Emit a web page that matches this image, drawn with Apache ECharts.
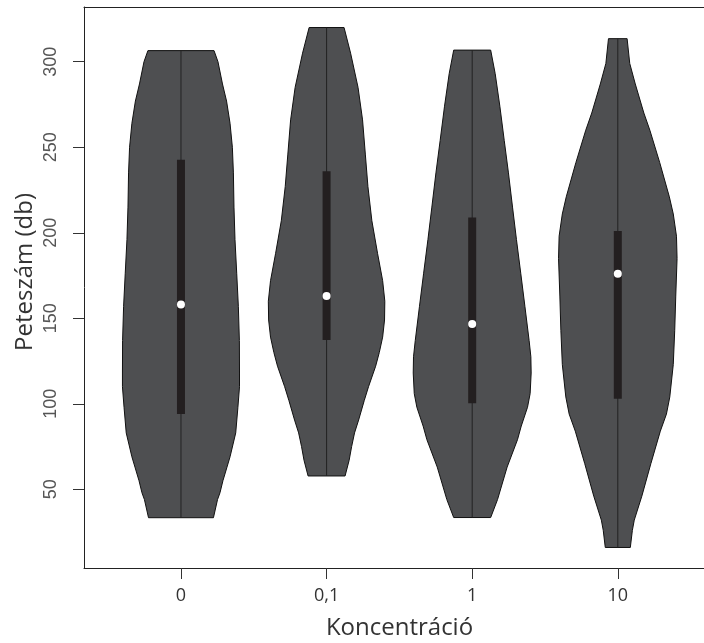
<!DOCTYPE html>
<html>
<head>
<meta charset="utf-8">
<script src="https://cdn.jsdelivr.net/npm/echarts@6/dist/echarts.min.js"></script>
<style>
  html, body { margin: 0; padding: 0; background: #fff; }
  #chart { width: 704px; height: 643px; }
</style>
</head>
<body>
<div id="chart"></div>
<script>
// Egg counts (Peteszám) per concentration group, shown as violin plots.
const categories = ['0', '0,1', '1', '10'];
const positions = [1, 2, 3, 4];
const yTicks = [50, 100, 150, 200, 250, 300];

// Box statistics per group
const minima = [33.4, 57.8, 33.5, 16];
const maxima = [306.5, 320, 306.8, 313.5];
const lowerQuartiles = [94, 137.3, 100.3, 103];
const upperQuartiles = [242.7, 235.9, 209, 201];
const medians = [158.1, 163, 146.6, 176];

// Kernel density outlines: [value, half width in group units]
const density0 = [
  [306.5, 0.227], [300, 0.254], [287, 0.285], [277, 0.313], [264, 0.337],
  [250, 0.353], [235, 0.360], [215, 0.364], [196, 0.371], [176, 0.383],
  [157, 0.394], [137, 0.401], [118, 0.402], [110, 0.402], [98, 0.391],
  [83, 0.376], [69, 0.337], [63, 0.316], [55, 0.288], [48, 0.268],
  [44, 0.251], [33.4, 0.223]
];
const density01 = [
  [320, 0.120], [305, 0.165], [285, 0.216], [266, 0.247], [246, 0.266],
  [227, 0.284], [207, 0.311], [188, 0.350], [172, 0.385], [160, 0.400],
  [149, 0.398], [139, 0.385], [130, 0.362], [122, 0.337], [110, 0.288],
  [102, 0.259], [90.5, 0.220], [83, 0.192], [75, 0.172], [67, 0.155],
  [57.8, 0.127]
];
const density1 = [
  [306.8, 0.127], [293, 0.158], [274, 0.190], [254, 0.220], [235, 0.249],
  [215, 0.277], [196, 0.304], [176, 0.334], [157, 0.362], [137, 0.391],
  [127.5, 0.403], [118, 0.405], [106, 0.398], [98, 0.380], [87, 0.337],
  [79, 0.311], [63, 0.240], [44, 0.174], [33.5, 0.127]
];
const density10 = [
  [313.5, 0.064], [299, 0.082], [287, 0.120], [270, 0.179], [260, 0.220],
  [241, 0.288], [221, 0.354], [211, 0.381], [198, 0.403], [185, 0.407],
  [163, 0.398], [143, 0.391], [123, 0.381], [104, 0.357], [94, 0.334],
  [84, 0.292], [65, 0.227], [46, 0.165], [32, 0.113], [26, 0.100],
  [16, 0.086]
];
const densities = [density0, density01, density1, density10];

const chart = echarts.init(document.getElementById('chart'), null, { renderer: 'canvas' });

function renderViolin(params, api) {
  const i = api.value(0);
  const x = positions[i];
  const prof = densities[i];
  const pts = [];
  // right side, top to bottom
  for (let k = 0; k < prof.length; k++) pts.push(api.coord([x + prof[k][1], prof[k][0]]));
  // left side, bottom to top
  for (let k = prof.length - 1; k >= 0; k--) pts.push(api.coord([x - prof[k][1], prof[k][0]]));

  const top = api.coord([x, maxima[i]]);
  const bottom = api.coord([x, minima[i]]);
  const q3 = api.coord([x, upperQuartiles[i]]);
  const q1 = api.coord([x, lowerQuartiles[i]]);
  const med = api.coord([x, medians[i]]);
  const boxW = 8;

  return {
    type: 'group',
    children: [
      {
        type: 'polygon',
        shape: { points: pts },
        style: { fill: '#4e4f51', stroke: '#111', lineWidth: 1 }
      },
      {
        type: 'line',
        shape: { x1: top[0], y1: top[1], x2: bottom[0], y2: bottom[1] },
        style: { stroke: '#222', lineWidth: 1 }
      },
      {
        type: 'rect',
        shape: { x: q3[0] - boxW / 2, y: q3[1], width: boxW, height: q1[1] - q3[1] },
        style: { fill: '#231f20' }
      },
      {
        type: 'circle',
        shape: { cx: med[0], cy: med[1], r: 4 },
        style: { fill: '#ffffff' }
      }
    ]
  };
}

const frameLine = { show: true, lineStyle: { color: '#222', width: 1 } };

chart.setOption({
  animation: false,
  backgroundColor: '#ffffff',
  grid: { left: 84, top: 7, width: 620, height: 561, show: false },
  xAxis: [
    {
      type: 'value',
      position: 'bottom',
      min: 0.334, max: 4.592,
      axisLine: frameLine,
      splitLine: { show: false },
      axisTick: { show: true, length: 11, customValues: positions, lineStyle: { color: '#333', width: 1 } },
      axisLabel: {
        customValues: positions,
        formatter: v => categories[Math.round(v) - 1],
        margin: 19,
        fontFamily: 'Open Sans',
        fontSize: 18,
        color: '#333'
      }
    },
    {
      // top edge of the plot frame
      type: 'value',
      position: 'top',
      min: 0.334, max: 4.592,
      axisLine: frameLine,
      axisTick: { show: false },
      axisLabel: { show: false },
      splitLine: { show: false }
    }
  ],
  yAxis: {
    type: 'value',
    min: 4, max: 332,
    axisLine: frameLine,
    splitLine: { show: false },
    axisTick: { show: true, length: 11, customValues: yTicks, lineStyle: { color: '#333', width: 1 } },
    axisLabel: {
      customValues: yTicks,
      rotate: 90,
      margin: 24,
      fontFamily: 'Liberation Sans',
      fontSize: 18,
      color: '#555'
    }
  },
  graphic: [
    {
      type: 'text',
      x: 399.5, y: 628,
      style: {
        text: 'Koncentráció', fontFamily: 'Open Sans', fontSize: 24, fill: '#333',
        align: 'center', verticalAlign: 'middle'
      }
    },
    {
      type: 'text',
      x: 25, y: 272, rotation: Math.PI / 2,
      style: {
        text: 'Peteszám (db)', fontFamily: 'Open Sans', fontSize: 24, fill: '#333',
        align: 'center', verticalAlign: 'middle'
      }
    }
  ],
  series: [{
    type: 'custom',
    xAxisIndex: 0,
    renderItem: renderViolin,
    data: positions.map((p, i) => [i]),
    encode: { x: 0 },
    clip: false
  }]
});
</script>
</body>
</html>
